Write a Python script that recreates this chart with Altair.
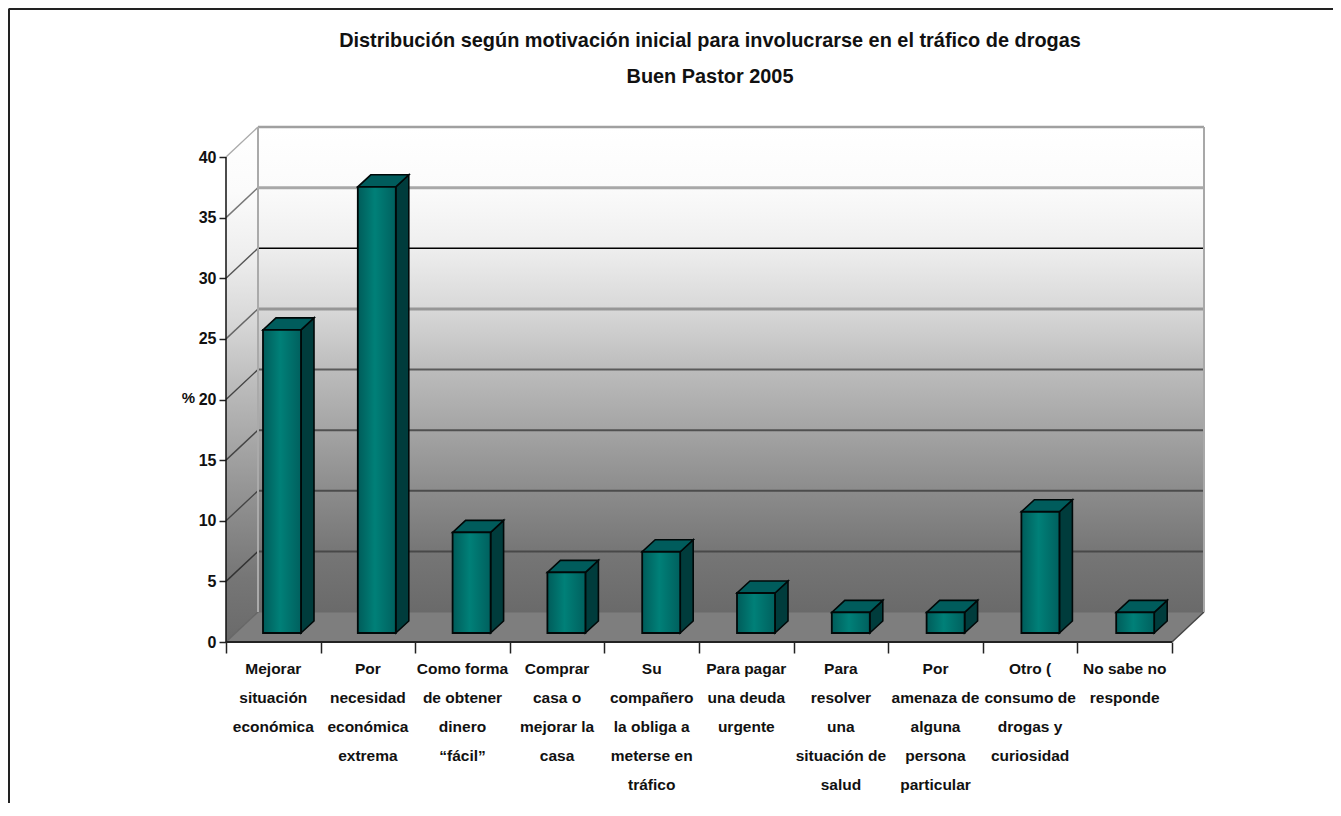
import altair as alt
import pandas as pd

TITLE = ["Distribución según motivación inicial para involucrarse en el tráfico de drogas", "Buen Pastor 2005"]
categories = [
    "Mejorar\nsituación\neconómica",
    "Por\nnecesidad\neconómica\nextrema",
    "Como forma\nde obtener\ndinero\n“fácil”",
    "Comprar\ncasa o\nmejorar la\ncasa",
    "Su\ncompañero\nla obliga a\nmeterse en\ntráfico",
    "Para pagar\nuna deuda\nurgente",
    "Para\nresolver\nuna\nsituación de\nsalud",
    "Por\namenaza de\nalguna\npersona\nparticular",
    "Otro (\nconsumo de\ndrogas y\ncuriosidad",
    "No sabe no\nresponde",
]
values = [25, 36.8, 8.3, 5, 6.7, 3.3, 1.7, 1.7, 10, 1.7]
y_ticks = [0, 5, 10, 15, 20, 25, 30, 35, 40]
grid_colors = ["#6a6a6a", "#484848", "#4c4c4c", "#505050", "#5a5a5a", "#969696", "#000000", "#a8a8a8", "#a0a0a0"]
grid_widths = [1, 2, 2, 2, 2, 3, 1.6, 3, 2.5]
diag_colors = ["#666666", "#333333", "#444444", "#444444", "#444444", "#666666", "#555555", "#777777", "#aaaaaa"]
wall_stops = ["#ffffff", "#fbfbfb", "#eeeeee", "#d8d8d8", "#bcbcbc", "#a4a4a4", "#8c8c8c", "#767676", "#6a6a6a"]

FONT = "Liberation Sans"
N = len(values)
SLOT = 94.6
UNIT = 12.125
DX = 32 / SLOT
DY = 30 / UNIT
BAR_L = 37 / SLOT
BAR_W = 38 / SLOT
BAR_STEP = 94.8 / SLOT
BAR_DX = 13 / SLOT
BAR_DY = 12 / UNIT
BASE = 9 / UNIT
YMAX = 40

PAD_L, PAD_T = 4, 4
OX, OY = 8 + PAD_L, 8 + PAD_T
W, H = 1321, 791

xs = alt.Scale(domain=[0, N + DX], range=[226 - OX, 226 - OX + 946 + 32], nice=False, zero=False)
ys = alt.Scale(domain=[0, YMAX + DY], range=[642 - OY, 642 - OY - 485 - 30], nice=False, zero=False)

x_axis = alt.Axis(
    values=list(range(N + 1)), labels=False, title=None, domain=False, grid=False,
    tickSize=11, tickWidth=1.5, tickColor="#222222", offset=-(H - (642 - OY)),
)
y_axis = alt.Axis(
    values=y_ticks, title="%", titleAngle=0, titleFont=FONT, titleFontSize=15, titleFontWeight="bold",
    titleColor="#111111", titleX=-38, titleY=385, titleAlign="center", titleBaseline="middle",
    domain=False, grid=False, tickSize=7, tickWidth=1.5, tickColor="#222222",
    labelFont=FONT, labelFontSize=16, labelFontWeight="bold", labelColor="#111111", labelPadding=3,
    offset=-(226 - OX),
)


def X(f="x", **kw):
    return alt.X(f"{f}:Q", scale=xs, axis=x_axis, **kw)


def Y(f="y", **kw):
    return alt.Y(f"{f}:Q", scale=ys, axis=y_axis, stack=None, **kw)


Y2 = alt.Y2("y2:Q")
X2 = alt.X2("x2:Q")

wall_grad = alt.Gradient(
    gradient="linear", x1=0, y1=0, x2=0, y2=1,
    stops=[alt.GradientStop(color=c, offset=i / (len(wall_stops) - 1)) for i, c in enumerate(wall_stops)],
)
bar_grad = alt.Gradient(
    gradient="linear", x1=0, y1=0, x2=1, y2=0,
    stops=[
        alt.GradientStop(color="#005c5a", offset=0),
        alt.GradientStop(color="#008078", offset=0.45),
        alt.GradientStop(color="#00605e", offset=1),
    ],
)

back = (
    alt.Chart(pd.DataFrame([{"x": DX, "x2": N + DX, "y": DY, "y2": YMAX + DY}]))
    .mark_rect(color=wall_grad)
    .encode(x=X(), x2=X2, y=Y(), y2=Y2)
)

left_df = pd.DataFrame([{"x": 0, "y": 0, "y2": YMAX}, {"x": DX, "y": DY, "y2": YMAX + DY}])
left = alt.Chart(left_df).mark_area(color=wall_grad, orient="vertical").encode(x=X(), y=Y(), y2=Y2)

floor_df = pd.DataFrame([
    {"x": 0, "y": 0, "y2": 0}, {"x": DX, "y": 0, "y2": DY}, {"x": N, "y": 0, "y2": DY}, {"x": N + DX, "y": DY, "y2": DY},
])
floor = alt.Chart(floor_df).mark_area(color="#7e7e7e", orient="vertical").encode(x=X(), y=Y(), y2=Y2)

grid_df = pd.DataFrame([
    {"x": DX, "x2": N + DX, "y": t + DY, "c": c, "w": w} for t, c, w in zip(y_ticks, grid_colors, grid_widths)
])
grid = alt.Chart(grid_df).mark_rule().encode(
    x=X(), x2=X2, y=Y(), color=alt.Color("c:N", scale=None), strokeWidth=alt.StrokeWidth("w:Q", scale=None)
)

diag_rows = []
for t, c in zip(y_ticks, diag_colors):
    diag_rows += [{"x": 0, "y": t, "t": t, "c": c}, {"x": DX, "y": t + DY, "t": t, "c": c}]
diag_rows += [{"x": N, "y": 0, "t": -1, "c": "#444444"}, {"x": N + DX, "y": DY, "t": -1, "c": "#444444"}]
diag = alt.Chart(pd.DataFrame(diag_rows)).mark_line(strokeWidth=1.4).encode(
    x=X(), y=Y(), detail="t:N", color=alt.Color("c:N", scale=None)
)

edge_df = pd.DataFrame([
    {"x": DX, "y": DY, "y2": YMAX + DY, "c": "#aaaaaa"},
    {"x": N + DX, "y": DY, "y2": YMAX + DY, "c": "#a8a8a8"},
])
edges = alt.Chart(edge_df).mark_rule(strokeWidth=2).encode(
    x=X(), y=Y(), y2=Y2, color=alt.Color("c:N", scale=None)
)

axis_v = alt.Chart(pd.DataFrame([{"x": 0, "y": 0, "y2": YMAX}])).mark_rule(color="#111111", strokeWidth=1.5).encode(
    x=X(), y=Y(), y2=Y2
)
axis_h = alt.Chart(pd.DataFrame([{"x": 0, "x2": N, "y": 0}])).mark_rule(color="#222222", strokeWidth=2).encode(
    x=X(), x2=X2, y=Y()
)

front_rows, side_rows, top_rows = [], [], []
for i, v in enumerate(values):
    l = i * BAR_STEP + BAR_L
    r = l + BAR_W
    b = BASE
    t = v + BASE
    front_rows.append({"x": l, "x2": r, "y": b, "y2": t})
    side_rows += [
        {"x": r, "y": b, "y2": t, "i": i},
        {"x": r + BAR_DX, "y": b + BAR_DY, "y2": t + BAR_DY, "i": i},
    ]
    top_rows += [
        {"x": l, "y": t, "y2": t, "i": i},
        {"x": l + BAR_DX, "y": t, "y2": t + BAR_DY, "i": i},
        {"x": r, "y": t, "y2": t + BAR_DY, "i": i},
        {"x": r + BAR_DX, "y": t + BAR_DY, "y2": t + BAR_DY, "i": i},
    ]

sides = alt.Chart(pd.DataFrame(side_rows)).mark_area(
    color="#003c3c", stroke="#000808", strokeWidth=1.6, orient="vertical"
).encode(x=X(), y=Y(), y2=Y2, detail="i:N")
tops = alt.Chart(pd.DataFrame(top_rows)).mark_area(
    color="#005c5c", stroke="#000808", strokeWidth=1.6, orient="vertical"
).encode(x=X(), y=Y(), y2=Y2, detail="i:N")
fronts = alt.Chart(pd.DataFrame(front_rows)).mark_rect(
    color=bar_grad, stroke="#000808", strokeWidth=1.8
).encode(x=X(), x2=X2, y=Y(), y2=Y2)

label_df = pd.DataFrame([{"x": i + 0.5, "y": 0, "t": c} for i, c in enumerate(categories)])
labels = alt.Chart(label_df).mark_text(
    font=FONT, fontSize=15.5, fontWeight="bold", color="#111111", lineBreak="\n", lineHeight=29,
    baseline="top", align="center", dy=20,
).encode(x=X(), y=Y(), text="t:N")

frame_top = alt.Chart(pd.DataFrame([{"a": 0}])).mark_rule(color="#222222", strokeWidth=2, clip=False).encode(
    x=alt.value(8.5 - OX), x2=alt.value(W), y=alt.value(9 - OY)
)
frame_left = alt.Chart(pd.DataFrame([{"a": 0}])).mark_rule(color="#222222", strokeWidth=2, clip=False).encode(
    x=alt.value(9 - OX), y=alt.value(9 - OY), y2=alt.value(H)
)

chart = alt.layer(
    back, left, floor, grid, diag, edges, sides, tops, fronts, axis_v, axis_h, labels, frame_top, frame_left
).properties(
    width=W,
    height=H,
    padding={"left": PAD_L, "top": PAD_T, "right": 0, "bottom": 0},
    autosize=alt.AutoSizeParams(type="none"),
    background="white",
    title=alt.TitleParams(
        text=TITLE, font=FONT, fontSize=19.9, fontWeight="bold", color="#111111", lineHeight=36,
        anchor="middle", frame="group", dx=710 - OX - W / 2, offset=-99, baseline="bottom",
    ),
).configure_view(stroke=None)

chart.save("out.html", embed_options={"renderer": "svg", "actions": False})
